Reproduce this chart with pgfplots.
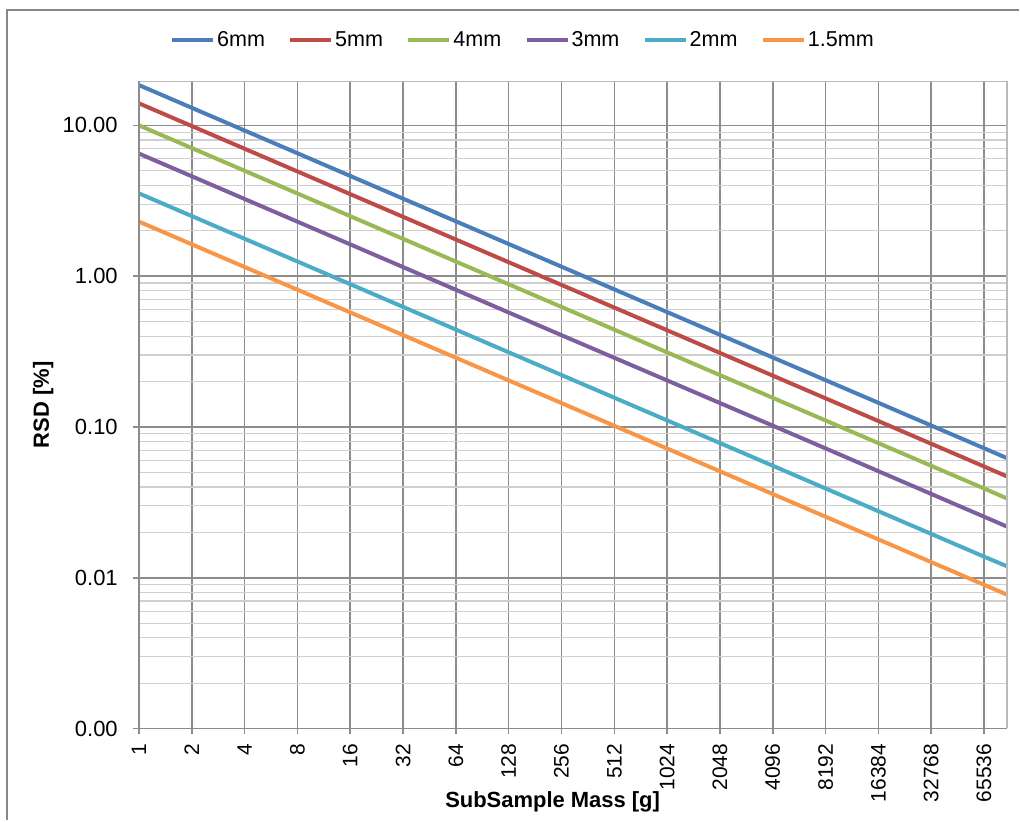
\documentclass[border=0pt]{standalone}
\usepackage{pgfplots}
\pgfplotsset{compat=1.18}
\usepackage{fontspec}
\setmainfont{Liberation Sans}
\definecolor{c6}{HTML}{4A7EBB}
\definecolor{c5}{HTML}{BE4B48}
\definecolor{c4}{HTML}{98B954}
\definecolor{c3}{HTML}{7D5FA0}
\definecolor{c2}{HTML}{4BACC6}
\definecolor{c15}{HTML}{F79646}
\definecolor{gmaj}{HTML}{8C8C8C}
\definecolor{gmin}{HTML}{CFCFCF}
\definecolor{frame}{HTML}{868686}
\begin{document}
\begin{tikzpicture}
\path (-69.65pt,-45.5pt) rectangle (440.35pt,365pt);
\draw[frame, line width=0.8pt] (-66.15pt,-46pt) -- (-66.15pt,360pt) -- (441pt,360pt);
\begin{axis}[
  scale only axis,
  width=435pt, height=324.25pt,
  xmode=log, log basis x=2,
  ymode=log,
  xmin=1, xmax=88900,
  ymin=0.001, ymax=19.6,
  xtick={1,2,4,8,16,32,64,128,256,512,1024,2048,4096,8192,16384,32768,65536},
  xticklabels={1,2,4,8,16,32,64,128,256,512,1024,2048,4096,8192,16384,32768,65536},
  ytick={0.001,0.01,0.1,1,10},
  yticklabels={0.00,0.01,0.10,1.00,10.00},
  minor ytick={0.002,0.003,0.004,0.005,0.006,0.007,0.008,0.009,
               0.02,0.03,0.04,0.05,0.06,0.07,0.08,0.09,
               0.2,0.3,0.4,0.5,0.6,0.7,0.8,0.9,
               2,3,4,5,6,7,8,9},
  /pgf/number format/assume math mode=true,
  tick pos=left,
  tick align=outside,
  major tick length=3pt,
  minor tick length=0pt,
  major tick style={draw=gmaj, line width=0.8pt},
  xmajorgrids, ymajorgrids, yminorgrids,
  major grid style={draw=gmaj, line width=0.8pt},
  minor grid style={draw=gmin, line width=0.6pt},
  axis line style={draw=none},
  ticklabel style={text=black},
  xticklabel style={font=\fontsize{10.5}{12}\selectfont, rotate=90, anchor=east, inner sep=0pt, xshift=-4.5pt},
  yticklabel style={font=\fontsize{11}{13}\selectfont, anchor=east, inner sep=0pt, xshift=-7.5pt},
  xlabel={SubSample Mass [g]},
  ylabel={RSD [\%]},
  label style={font=\fontsize{11}{13}\selectfont\bfseries},
  xlabel style={at={(axis description cs:0.4764,-0.1128)}, anchor=center},
  ylabel style={at={(axis description cs:-0.1103,0.5)}, anchor=center, rotate=0},
  legend columns=6,
  legend style={at={(axis description cs:0.4422,1.064)}, anchor=center, draw=none, fill=none,
    font=\fontsize{10.8}{12}\selectfont, nodes={inner sep=1pt, text height=1.5ex, text depth=0.25ex},
    /tikz/every even column/.append style={column sep=10.7pt}},
  legend image code/.code={\draw[#1, line width=2pt] (0pt,0pt) -- (20.5pt,0pt);},
  every axis plot/.append style={line width=2pt, no marks},
  clip=true,
]
\addplot[c6] coordinates {(1,18.5) (16,4.62) (256,1.156) (4096,0.289) (65536,0.0723) (88900,0.0620)};
\addlegendentry{6mm}
\addplot[c5] coordinates {(1,14.0) (16,3.5) (256,0.875) (4096,0.219) (65536,0.0547) (88900,0.0469)};
\addlegendentry{5mm}
\addplot[c4] coordinates {(1,10.0) (16,2.5) (256,0.625) (4096,0.156) (65536,0.0391) (88900,0.0335)};
\addlegendentry{4mm}
\addplot[c3] coordinates {(1,6.5) (16,1.625) (256,0.406) (4096,0.102) (65536,0.0254) (88900,0.0218)};
\addlegendentry{3mm}
\addplot[c2] coordinates {(1,3.54) (16,0.885) (256,0.221) (4096,0.0553) (65536,0.0138) (88900,0.0119)};
\addlegendentry{2mm}
\addplot[c15] coordinates {(1,2.30) (16,0.575) (256,0.144) (4096,0.0359) (65536,0.00898) (88900,0.00771)};
\addlegendentry{1.5mm}
\end{axis}
\draw[gmin!90!black, line width=0.8pt] (0pt,324.25pt) -- (435pt,324.25pt) -- (435pt,0pt);
\draw[gmaj, line width=0.8pt] (0pt,324.25pt) -- (0pt,0pt) -- (435pt,0pt);
\end{tikzpicture}
\end{document}
